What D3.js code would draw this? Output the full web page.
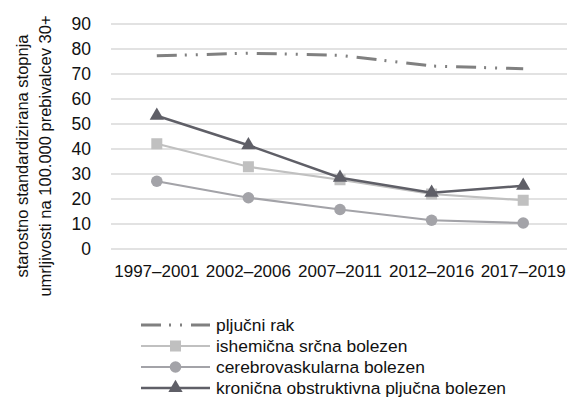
<!DOCTYPE html>
<html>
<head>
<meta charset="utf-8">
<script src="https://cdn.jsdelivr.net/npm/d3@7"></script>
<style>
  html, body { margin: 0; padding: 0; background: #fff; }
  svg { display: block; font-family: "Liberation Sans", Arial, sans-serif; }
</style>
</head>
<body>
<svg id="chart" width="576" height="412"></svg>
<script>
// Periods on the x axis
const periods = ["1997–2001", "2002–2006", "2007–2011", "2012–2016", "2017–2019"];
// Y axis ticks
const yTicks = [0, 10, 20, 30, 40, 50, 60, 70, 80, 90];

// Age-standardised mortality rate per 100,000 inhabitants aged 30+
const pljucniRak = [77.3, 78.3, 77.5, 73.2, 72.1];
const ishemicna = [42.1, 32.9, 27.7, 22.0, 19.5];
const cerebrovaskularna = [27.1, 20.5, 15.8, 11.5, 10.4];
const kronicnaObstruktivna = [53.3, 41.5, 28.5, 22.5, 25.3];

const seriesNames = [
  "pljučni rak",
  "ishemična srčna bolezen",
  "cerebrovaskularna bolezen",
  "kronična obstruktivna pljučna bolezen"
];

const series = [
  { name: seriesNames[0], values: pljucniRak, color: "#808080", width: 3, dash: "20,8,2,9,2,9", marker: null },
  { name: seriesNames[1], values: ishemicna, color: "#c0c0c0", width: 2.2, dash: null, marker: "square" },
  { name: seriesNames[2], values: cerebrovaskularna, color: "#a3a3a8", width: 2.2, dash: null, marker: "circle" },
  { name: seriesNames[3], values: kronicnaObstruktivna, color: "#5f5f67", width: 2.5, dash: null, marker: "triangle" }
];

const svg = d3.select("#chart");
const plotLeft = 111, plotRight = 569, plotTop = 24, plotBottom = 249;
const fontSize = 17;

const x = d3.scaleBand().domain(periods).range([plotLeft, plotRight]);
const y = d3.scaleLinear().domain([0, 90]).range([plotBottom, plotTop]);

// Horizontal gridlines
svg.append("g").selectAll("line").data(yTicks).join("line")
  .attr("x1", plotLeft).attr("x2", plotRight - 2)
  .attr("y1", d => y(d)).attr("y2", d => y(d))
  .attr("stroke", "#d9d9d9").attr("stroke-width", 1.6);

// Y axis tick labels
const yAxis = svg.append("g")
  .attr("transform", `translate(${plotLeft - 20},0)`)
  .call(d3.axisLeft(y).tickValues(yTicks).tickSize(0).tickPadding(0));
yAxis.select(".domain").remove();
yAxis.selectAll("text")
  .attr("font-size", 17.5).attr("fill", "#111")
  .attr("font-family", "Liberation Sans, Arial, sans-serif");

// X axis tick labels
const xAxis = svg.append("g")
  .attr("transform", `translate(0,${plotBottom + 10})`)
  .call(d3.axisBottom(x).tickSize(0).tickPadding(6));
xAxis.select(".domain").remove();
xAxis.selectAll("text")
  .attr("font-size", fontSize).attr("fill", "#111")
  .attr("font-family", "Liberation Sans, Arial, sans-serif");

// Y axis title, two lines
const titleLines = ["starostno standardizirana stopnja", "umrljivosti na 100.000 prebivalcev 30+"];
svg.append("g").selectAll("text").data(titleLines).join("text")
  .attr("transform", (d, i) => `translate(${28 + i * 23},156) rotate(-90)`)
  .attr("text-anchor", "middle")
  .attr("font-size", 16.5).attr("fill", "#111")
  .text(d => d);

const cx = (i) => x(periods[i]) + x.bandwidth() / 2;

function drawMarker(g, type, color, px, py) {
  if (type === "square") {
    g.append("rect").attr("x", px - 5.5).attr("y", py - 5.5)
      .attr("width", 11).attr("height", 11).attr("fill", color);
  } else if (type === "circle") {
    g.append("circle").attr("cx", px).attr("cy", py).attr("r", 5.8).attr("fill", color);
  } else if (type === "triangle") {
    g.append("path")
      .attr("d", d3.symbol().type(d3.symbolTriangle).size(88)())
      .attr("transform", `translate(${px},${py})`)
      .attr("fill", color);
  }
}

const line = d3.line().x((d, i) => cx(i)).y(d => y(d));

series.forEach(s => {
  const g = svg.append("g");
  g.append("path").datum(s.values)
    .attr("d", line)
    .attr("fill", "none")
    .attr("stroke", s.color)
    .attr("stroke-width", s.width)
    .attr("stroke-dasharray", s.dash);
  if (s.marker) {
    s.values.forEach((v, i) => drawMarker(g, s.marker, s.color, cx(i), y(v)));
  }
});

// Legend
const legend = svg.append("g");
series.forEach((s, i) => {
  const ly = 325 + i * 21;
  const g = legend.append("g");
  g.append("line")
    .attr("x1", 141).attr("x2", 210).attr("y1", ly).attr("y2", ly)
    .attr("stroke", s.color).attr("stroke-width", s.width)
    .attr("stroke-dasharray", s.dash ? "20,8,2,9,2,9,20" : null);
  if (s.marker) drawMarker(g, s.marker, s.color, 175.5, ly);
  g.append("text")
    .attr("x", 216).attr("y", ly + 6)
    .attr("font-size", 17.4).attr("fill", "#111")
    .text(s.name);
});
</script>
</body>
</html>
